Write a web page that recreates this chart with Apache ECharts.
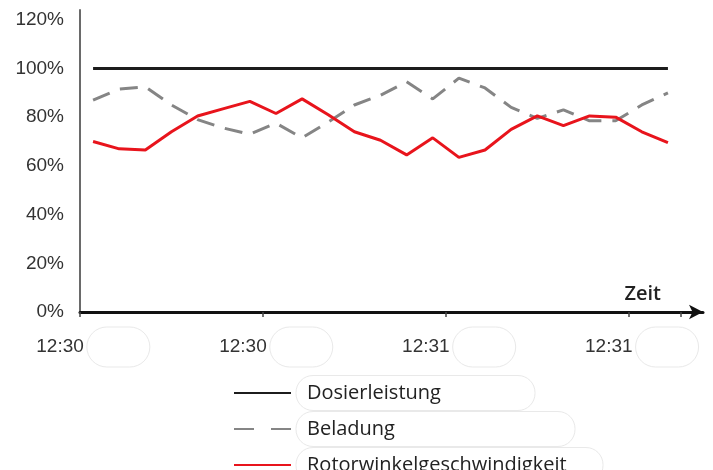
<!DOCTYPE html>
<html>
<head>
<meta charset="utf-8">
<script src="https://cdn.jsdelivr.net/npm/echarts@6/dist/echarts.min.js"></script>
<style>
html,body{margin:0;padding:0;background:#fff;}
#chart{width:713px;height:470px;}
</style>
</head>
<body>
<div id="chart"></div>
<script>
// Time stamps (seconds are illegible in the source; only HH:MM shown)
const timeLabels = [
  '12:30','12:30','12:30','12:30','12:30','12:30','12:30','12:30','12:30','12:30','12:30',
  '12:31','12:31','12:31','12:31','12:31','12:31','12:31','12:31','12:31','12:31','12:31','12:31'
];
const seriesNames = ['Dosierleistung', 'Beladung', 'Rotorwinkelgeschwindigkeit'];
const dosierleistung = [100,100,100,100,100,100,100,100,100,100,100,100,100,100,100,100,100,100,100,100,100,100,100];
const beladung = [87,91.5,92.5,85,79,75.5,73,77.5,71.5,78,85,89,94.5,87.5,96,92,84,79.5,83,78.5,78.5,85,90];
const rotorwinkel = [70,67,66.5,74,80.5,83.5,86.5,81.5,87.5,81,74,70.5,64.5,71.5,63.5,66.5,75,80.5,76.5,80.5,80,74,69.5];
const yTicks = {min: 0, max: 124, interval: 20};

const chart = echarts.init(document.getElementById('chart'), null, {renderer: 'canvas'});
const blob = {borderColor: '#e9e9e9', borderWidth: 1};
chart.setOption({
  animation: false,
  backgroundColor: '#ffffff',
  grid: [
    {left: 80, right: 32, top: 10, bottom: 158},
    {left: 80, right: 10, top: 10, bottom: 158}
  ],
  legend: {
    orient: 'vertical',
    left: 228,
    top: 370,
    height: 140,
    itemWidth: 57,
    itemHeight: 14,
    itemGap: 0,
    itemStyle: {opacity: 0},
    data: [
      {name: seriesNames[0], textStyle: {width: 228}},
      {name: seriesNames[1], lineStyle: {type: [20, 17]}, textStyle: {width: 268}},
      {name: seriesNames[2], textStyle: {width: 296}}
    ],
    textStyle: Object.assign({
      fontFamily: 'Open Sans', fontSize: 20, color: '#222',
      padding: [7, 0, 7, 11], lineHeight: 21, borderRadius: 17
    }, blob)
  },
  xAxis: [
    {
      type: 'category',
      gridIndex: 0,
      data: timeLabels,
      boundaryGap: true,
      axisLine: {show: false},
      axisTick: {show: true, length: 5, lineStyle: {color: '#444', width: 1.5}},
      axisLabel: {
        interval: 6,
        margin: 15,
        formatter: v => '{t|' + v + '}{b|}',
        rich: {
          t: {fontFamily: 'Liberation Sans', fontSize: 19, color: '#333', padding: [0, 3, 0, 0]},
          b: Object.assign({width: 63, height: 40, borderRadius: 20}, blob)
        }
      },
      splitLine: {show: false}
    },
    {
      type: 'value',
      gridIndex: 1,
      min: 0, max: 1,
      name: 'Zeit',
      nameLocation: 'end',
      nameGap: -42,
      nameTextStyle: {
        fontFamily: 'Open Sans', fontSize: 20, fontWeight: 600, color: '#222',
        align: 'right', verticalAlign: 'bottom', padding: [0, 0, 8, 0]
      },
      axisLine: {
        show: true, symbol: ['none', 'arrow'], symbolSize: [11, 14],
        lineStyle: {color: '#111', width: 3}
      },
      axisTick: {show: false},
      axisLabel: {show: false},
      splitLine: {show: false}
    }
  ],
  yAxis: [
    {
      type: 'value',
      gridIndex: 0,
      min: yTicks.min, max: yTicks.max, interval: yTicks.interval,
      axisLine: {show: true, lineStyle: {color: '#6a6a6a', width: 2}},
      axisTick: {show: false},
      axisLabel: {
        showMaxLabel: false,
        margin: 16,
        formatter: '{value}%',
        fontFamily: 'Liberation Sans', fontSize: 19, color: '#333'
      },
      splitLine: {show: false}
    },
    {type: 'value', gridIndex: 1, show: false, min: 0, max: 1}
  ],
  series: [
    {
      name: seriesNames[0], type: 'line', xAxisIndex: 0, yAxisIndex: 0,
      data: dosierleistung, symbol: 'none',
      lineStyle: {color: '#1c1c1c', width: 3}, itemStyle: {color: '#1c1c1c'}
    },
    {
      name: seriesNames[1], type: 'line', xAxisIndex: 0, yAxisIndex: 0,
      data: beladung, symbol: 'none',
      lineStyle: {color: '#858585', width: 3, type: [18, 11]}, itemStyle: {color: '#858585'}
    },
    {
      name: seriesNames[2], type: 'line', xAxisIndex: 0, yAxisIndex: 0,
      data: rotorwinkel, symbol: 'none',
      lineStyle: {color: '#e8141c', width: 3}, itemStyle: {color: '#e8141c'}
    }
  ]
});
</script>
</body>
</html>
